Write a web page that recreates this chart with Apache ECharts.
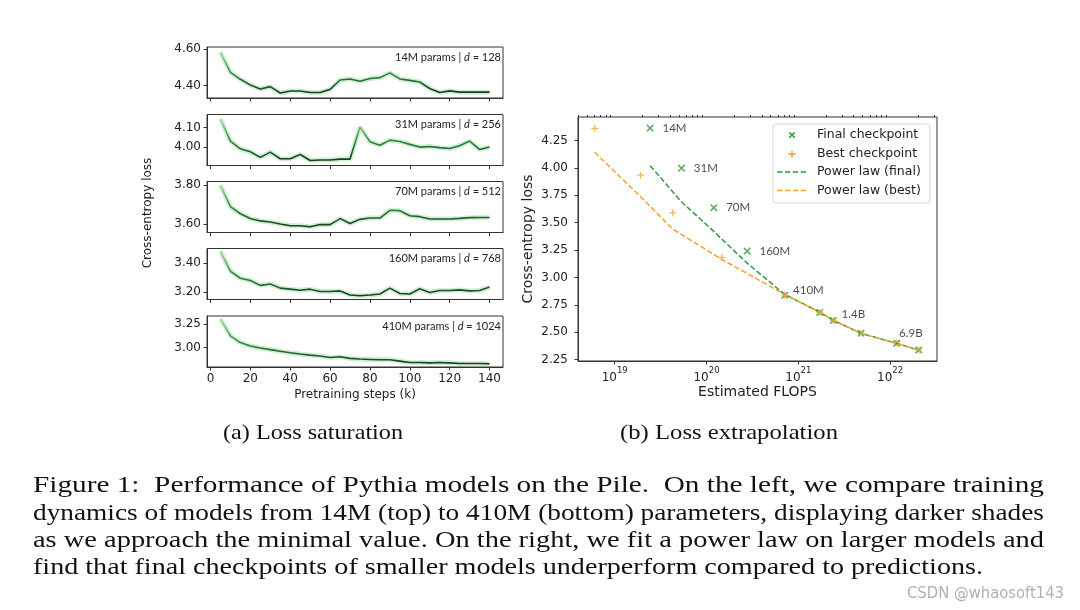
<!DOCTYPE html>
<html><head><meta charset="utf-8">
<script src="https://cdn.jsdelivr.net/npm/echarts@6/dist/echarts.min.js"></script>
<style>html,body{margin:0;padding:0;background:#fff}#c{width:1080px;height:610px}</style>
</head><body><div id="c"></div>
<script>
// ---------- Left panels data ----------
const steps = [5,10,15,20,25,30,35,40,45,50,55,60,65,70,75,80,85,90,95,100,105,110,115,120,125,130,135,140];
const loss14M = [4.582,4.473,4.435,4.404,4.382,4.395,4.360,4.371,4.371,4.363,4.363,4.380,4.431,4.437,4.424,4.439,4.444,4.470,4.437,4.429,4.420,4.385,4.363,4.372,4.365,4.365,4.365,4.365];
const loss31M = [4.145,4.031,3.991,3.976,3.947,3.974,3.940,3.940,3.962,3.931,3.933,3.933,3.938,3.938,4.103,4.028,4.009,4.036,4.029,4.014,4.000,4.003,3.997,3.993,4.007,4.031,3.988,4.000];
const loss70M = [3.800,3.690,3.653,3.628,3.616,3.610,3.600,3.591,3.591,3.586,3.597,3.597,3.628,3.603,3.624,3.631,3.631,3.671,3.669,3.643,3.638,3.626,3.626,3.626,3.629,3.633,3.634,3.634];
const loss160M = [3.480,3.344,3.296,3.280,3.247,3.256,3.228,3.221,3.214,3.221,3.205,3.205,3.209,3.181,3.176,3.181,3.188,3.228,3.191,3.188,3.224,3.198,3.212,3.212,3.216,3.209,3.212,3.235];
const loss410M = [3.304,3.125,3.054,3.018,2.996,2.979,2.961,2.946,2.932,2.921,2.911,2.896,2.904,2.886,2.879,2.875,2.871,2.871,2.857,2.843,2.843,2.839,2.843,2.839,2.832,2.832,2.832,2.829];
const panelLabels = ['14M params | {i|d} = 128','31M params | {i|d} = 256','70M params | {i|d} = 512','160M params | {i|d} = 768','410M params | {i|d} = 1024'];
const leftYTicks = [[4.40,4.60],[4.00,4.10],[3.60,3.80],[3.20,3.40],[3.00,3.25]];
const leftYRange = [[4.333,4.611],[3.905,4.168],[3.556,3.820],[3.150,3.500],[2.795,3.335]];
const leftXTicks = [0,20,40,60,80,100,120,140];

// ---------- Right panel data ----------
const modelNames = ['14M','31M','70M','160M','410M','1B','1.4B','2.8B','6.9B','12B'];
const finalFlops = [2.43e19,5.33e19,1.20e20,2.77e20,7.10e20,1.71e21,2.40e21,4.82e21,1.18e22,2.05e22];
const finalLoss  = [4.363,3.997,3.636,3.240,2.838,2.680,2.607,2.491,2.399,2.338];
const bestFlops  = [6.05e18,1.91e19,4.29e19,1.47e20,7.10e20,1.71e21,2.40e21,4.82e21,1.18e22,2.05e22];
const bestLoss   = [4.359,3.933,3.588,3.182,2.838,2.680,2.607,2.491,2.399,2.338];
const powerFinal = [4.020,3.690,3.420,3.130,2.845,2.682,2.608,2.490,2.398,2.336];
const powerBest  = [4.143,3.737,3.441,3.164,2.845,2.682,2.608,2.490,2.398,2.336];
const labeledModels = ['14M','31M','70M','160M','410M','1.4B','6.9B'];
const rightXTicks = [1e19,1e20,1e21,1e22];
const rightYTicks = [2.25,2.50,2.75,3.00,3.25,3.50,3.75,4.00,4.25];
const rightXRange = [3.98e18,3.24e22];
const rightYRange = [2.237,4.464];

// ---------- Captions ----------
const subCaptions = ['(a) Loss saturation','(b) Loss extrapolation'];
const captionLines = [
 'Figure 1:  Performance of Pythia models on the Pile.  On the left, we compare training',
 'dynamics of models from 14M (top) to 410M (bottom) parameters, displaying darker shades',
 'as we approach the minimal value. On the right, we fit a power law on larger models and',
 'find that final checkpoints of smaller models underperform compared to predictions.'
];
const watermark = 'CSDN @whaosoft143';

// ---------- build ----------
const GREEN = '#35973a', ORANGE = '#f2a430', AX = '#333', TXT = '#222';
const FONT = "'DejaVu Sans', sans-serif";
const SERIF = "'Liberation Serif', 'Times New Roman', Times, serif";
const NARROW = "'Liberation Sans Narrow', 'DejaVu Sans Condensed', 'Liberation Sans', sans-serif";
const LATO = "Lato, 'DejaVu Sans', sans-serif";
const leftSeries = [loss14M, loss31M, loss70M, loss160M, loss410M];
const panelTops = [47, 114.5, 181.5, 248.5, 316];
const PL = 207, PW = 296, PH = 51;

const grids = [], xAxes = [], yAxes = [], series = [], visualMaps = [], titles = [];
leftSeries.forEach((arr, p) => {
  grids.push({left: PL, top: panelTops[p], width: PW, height: PH, show: true, borderColor: AX, borderWidth: 1, outerBoundsMode: 'none'});
  xAxes.push({gridIndex: p, type: 'value', min: -1.75, max: 146.75,
    axisLine: {show: true, onZero: false, lineStyle: {color: AX}},
    axisTick: {show: true, length: 3.5, customValues: leftXTicks, lineStyle: {color: AX}},
    axisLabel: {show: p === 4, customValues: leftXTicks, margin: 6, fontFamily: FONT, fontSize: 12, color: TXT},
    splitLine: {show: false},
    name: p === 4 ? 'Pretraining steps (k)' : '', nameLocation: 'middle', nameGap: 22,
    nameTextStyle: {fontFamily: FONT, fontSize: 12, color: TXT}});
  yAxes.push({gridIndex: p, type: 'value', min: leftYRange[p][0], max: leftYRange[p][1],
    axisLine: {show: true, onZero: false, lineStyle: {color: AX}},
    axisTick: {show: true, length: 3.5, customValues: leftYTicks[p], lineStyle: {color: AX}},
    axisLabel: {customValues: leftYTicks[p], margin: 6, fontFamily: FONT, fontSize: 12, color: TXT, formatter: v => v.toFixed(2)},
    splitLine: {show: false}});
  const data = steps.map((s, i) => [s, arr[i]]);
  series.push({type: 'line', xAxisIndex: p, yAxisIndex: p, data, symbol: 'none', silent: true, z: 2,
    lineStyle: {width: 5, color: 'rgba(130,210,130,0.35)'}});
  series.push({type: 'line', xAxisIndex: p, yAxisIndex: p, data, symbol: 'none', z: 3,
    lineStyle: {width: 1.6}});
  visualMaps.push({type: 'continuous', show: false, seriesIndex: 2 * p + 1, dimension: 1,
    min: Math.min(...arr), max: Math.max(...arr), inRange: {color: ['#123d20', '#2f8c46', '#9fd89c']}});
  titles.push({text: panelLabels[p], right: 1080 - 501, top: panelTops[p] + 4.5, padding: 0,
    textStyle: {fontFamily: LATO, fontSize: 11, fontWeight: 'normal', color: TXT,
      rich: {i: {fontFamily: LATO, fontSize: 11, fontStyle: 'italic', color: TXT}}}});
});

// right grid
const RG = 5;
grids.push({left: 578, top: 117, width: 359, height: 244, show: true, borderColor: AX, borderWidth: 1, outerBoundsMode: 'none'});
const lg = v => Math.log10(v);
const minors = [];
for (let e = 18; e <= 22; e++) for (let k = 2; k <= 9; k++) {
  const v = k * Math.pow(10, e);
  if (v >= rightXRange[0] && v <= rightXRange[1]) minors.push(lg(v));
}
xAxes.push({gridIndex: RG, type: 'value', min: lg(rightXRange[0]), max: lg(rightXRange[1]),
  axisLine: {show: true, onZero: false, lineStyle: {color: AX}},
  axisTick: {show: true, length: 3.5, customValues: rightXTicks.map(lg), lineStyle: {color: AX}},
  axisLabel: {customValues: rightXTicks.map(lg), margin: 5, color: TXT,
    formatter: v => '{b|10}{s|' + Math.round(v) + '}',
    rich: {b: {fontFamily: FONT, fontSize: 12, color: TXT, lineHeight: 18, verticalAlign: 'bottom'},
           s: {fontFamily: FONT, fontSize: 8.5, color: TXT, lineHeight: 10, verticalAlign: 'top'}}},
  splitLine: {show: false},
  name: 'Estimated FLOPS', nameLocation: 'middle', nameGap: 24,
  nameTextStyle: {fontFamily: FONT, fontSize: 14, color: TXT}});
xAxes.push({gridIndex: RG, type: 'value', min: lg(rightXRange[0]), max: lg(rightXRange[1]),
  axisLine: {show: false}, axisLabel: {show: false}, splitLine: {show: false},
  axisTick: {show: true, length: 2, customValues: minors, lineStyle: {color: AX}}});
yAxes.push({gridIndex: RG, type: 'value', min: rightYRange[0], max: rightYRange[1],
  axisLine: {show: true, onZero: false, lineStyle: {color: AX}},
  axisTick: {show: true, length: 3.5, customValues: rightYTicks, lineStyle: {color: AX}},
  axisLabel: {customValues: rightYTicks, margin: 10, fontFamily: FONT, fontSize: 12, color: TXT, formatter: v => v.toFixed(2)},
  splitLine: {show: false},
  name: 'Cross-entropy loss', nameLocation: 'middle', nameGap: 43,
  nameTextStyle: {fontFamily: FONT, fontSize: 14, color: TXT}});

const PLUS = 'path://M4.1,0H5.9V4.1H10V5.9H5.9V10H4.1V5.9H0V4.1H4.1Z';
const labelOpts = {
  '14M': {position: 'right', distance: 6}, '31M': {position: 'right', distance: 6},
  '70M': {position: 'right', distance: 6}, '160M': {position: 'right', distance: 6},
  '410M': {position: 'right', distance: 2, offset: [0, -5]},
  '1.4B': {position: 'right', distance: 2, offset: [0, -6]},
  '6.9B': {position: 'right', distance: 0, offset: [-4, -10]}
};
series.push({type: 'scatter', xAxisIndex: RG, yAxisIndex: RG, symbol: PLUS, symbolRotate: 45, symbolSize: 9, z: 3,
  itemStyle: {color: GREEN},
  data: finalFlops.map((f, i) => {
    const nm = modelNames[i];
    const o = {value: [lg(f), finalLoss[i]], name: nm};
    if (labeledModels.includes(nm)) o.label = Object.assign({show: true, formatter: nm, fontFamily: LATO, fontSize: 11.5, color: TXT}, labelOpts[nm]);
    return o;
  })});
series.push({type: 'scatter', xAxisIndex: RG, yAxisIndex: RG, symbol: PLUS, symbolSize: 7, z: 3,
  itemStyle: {color: ORANGE},
  data: bestFlops.map((f, i) => [lg(f), bestLoss[i]])});
series.push({type: 'line', xAxisIndex: RG, yAxisIndex: RG, symbol: 'none', z: 4,
  lineStyle: {color: GREEN, width: 1.5, type: [5.5, 2.4]},
  data: finalFlops.map((f, i) => [lg(f), powerFinal[i]])});
series.push({type: 'line', xAxisIndex: RG, yAxisIndex: RG, symbol: 'none', z: 5,
  lineStyle: {color: ORANGE, width: 1.5, type: [5.5, 2.4]},
  data: bestFlops.map((f, i) => [lg(f), powerBest[i]])});

// text measurement for justified captions
const ctx = document.createElement('canvas').getContext('2d');
function tw(t, size, fam) { ctx.font = size + 'px ' + fam; return ctx.measureText(t).width; }
const graphics = [];
graphics.push({type: 'text', x: 148, y: 213, rotation: Math.PI / 2, z: 100,
  style: {text: 'Cross-entropy loss', fontFamily: FONT, fontSize: 12, fill: TXT, textAlign: 'center', textVerticalAlign: 'middle'}});
// legend
const LX = 792;
graphics.push({type: 'rect', z: 100, shape: {x: 773, y: 124, width: 157, height: 79, r: 3}, style: {fill: '#fff', stroke: '#d4d4d4', lineWidth: 1}});
graphics.push({type: 'line', z: 101, shape: {x1: LX - 2.8, y1: 132.2, x2: LX + 2.8, y2: 137.8}, style: {stroke: GREEN, lineWidth: 1.5}});
graphics.push({type: 'line', z: 101, shape: {x1: LX - 2.8, y1: 137.8, x2: LX + 2.8, y2: 132.2}, style: {stroke: GREEN, lineWidth: 1.5}});
graphics.push({type: 'line', z: 101, shape: {x1: LX - 3.5, y1: 154, x2: LX + 3.5, y2: 154}, style: {stroke: ORANGE, lineWidth: 1.5}});
graphics.push({type: 'line', z: 101, shape: {x1: LX, y1: 150.5, x2: LX, y2: 157.5}, style: {stroke: ORANGE, lineWidth: 1.5}});
graphics.push({type: 'line', z: 101, shape: {x1: 777, y1: 172, x2: 807, y2: 172}, style: {stroke: GREEN, lineWidth: 1.5, lineDash: [5.5, 2.4]}});
graphics.push({type: 'line', z: 101, shape: {x1: 777, y1: 190.5, x2: 807, y2: 190.5}, style: {stroke: ORANGE, lineWidth: 1.5, lineDash: [5.5, 2.4]}});
['Final checkpoint', 'Best checkpoint', 'Power law (final)', 'Power law (best)'].forEach((t, i) => {
  graphics.push({type: 'text', z: 101, x: 817, y: [135, 154, 172, 190.5][i],
    style: {text: t, fontFamily: FONT, fontSize: 12.5, fill: TXT, textVerticalAlign: 'middle'}});
});
// sub captions
[[313, 180], [729, 218]].forEach(([cx, w], i) => {
  const nat = tw(subCaptions[i], 21, SERIF);
  graphics.push({type: 'text', x: cx, y: 433, scaleX: w / nat, z: 100,
    style: {text: subCaptions[i], fontFamily: SERIF, fontSize: 21, fill: '#111', textAlign: 'center', textVerticalAlign: 'middle'}});
});
// caption lines (justified via horizontal scaling)
const capY = [486, 513.5, 541, 568];
const capW = [1011, 1011, 1011, 950];
captionLines.forEach((t, i) => {
  const nat = tw(t, 24, SERIF);
  graphics.push({type: 'text', x: 33, y: capY[i], scaleX: capW[i] / nat, z: 100,
    style: {text: t, fontFamily: SERIF, fontSize: 24, fill: '#111', textAlign: 'left', textVerticalAlign: 'middle'}});
});
{
  const nat = tw(watermark, 16, NARROW);
  graphics.push({type: 'text', x: 1064, y: 594, scaleX: 157 / nat, z: 100,
    style: {text: watermark, fontFamily: NARROW, fontSize: 16, fill: '#b0b0b0', textAlign: 'right', textVerticalAlign: 'middle'}});
}

const chart = echarts.init(document.getElementById('c'), null, {renderer: 'canvas'});
chart.setOption({
  animation: false,
  backgroundColor: '#fff',
  title: titles,
  grid: grids,
  xAxis: xAxes,
  yAxis: yAxes,
  visualMap: visualMaps,
  series,
  graphic: graphics
});
</script></body></html>
